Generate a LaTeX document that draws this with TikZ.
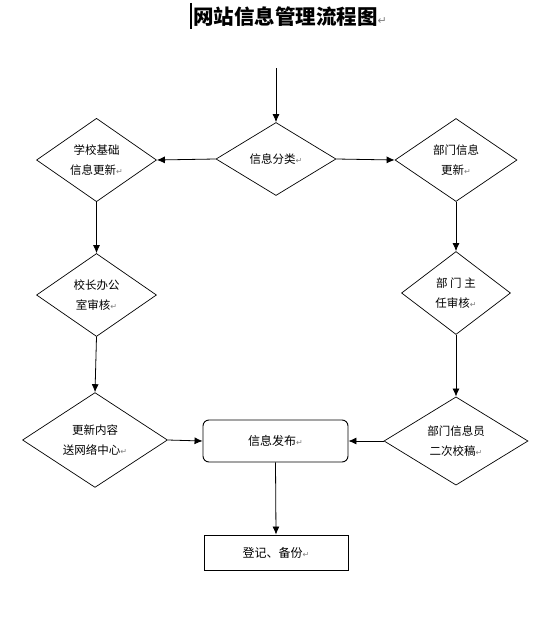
\documentclass[tikz,border=0pt]{standalone}
\usepackage{fontspec}
\newfontfamily\cjk{Noto Sans CJK SC}
\newfontfamily\dejavu{DejaVu Sans}
\usetikzlibrary{shapes.geometric,arrows.meta}
\newcommand\pmk{{\dejavu\fontsize{8}{8}\selectfont\textcolor{gray}{↵}}}
\newcommand\pmkbig{{\dejavu\fontsize{11}{11}\selectfont\mdseries\textcolor{gray}{↵}}}
\tikzset{
  dia/.style={diamond, draw, line width=0.7pt, inner sep=0pt, align=center,
    font=\cjk\fontsize{11.5}{20}\selectfont},
  pubbox/.style={draw, line width=0.9pt, rounded corners=6pt, inner sep=0pt,
    minimum width=145, minimum height=42, font=\cjk\fontsize{12}{14}\selectfont},
  recbox/.style={draw, line width=0.9pt, inner sep=0pt,
    minimum width=144, minimum height=35, font=\cjk\fontsize{12}{14}\selectfont},
  arr/.style={draw, line width=0.8pt, -{Latex[length=8pt,width=7pt]}}
}
\begin{document}
\begin{tikzpicture}[x=1pt,y=-1pt]
\useasboundingbox[fill=white] (0,0) rectangle (559,626);
% title
\draw[line width=2pt] (191,3) -- (191,29);
\node[anchor=west, inner sep=0pt, font=\cjk\fontsize{20.5}{24}\selectfont\bfseries] (title) at (193,17) {网站信息管理流程图\pmkbig};
% nodes
\coordinate (start) at (276,68);
\node[dia, minimum width=120, minimum height=73] (cls) at (276,159) {信息分类\pmk};
\node[dia, minimum width=120, minimum height=81] (school) at (96.5,160) {学校基础\\信息更新\pmk};
\node[dia, minimum width=122, minimum height=83] (dept) at (456,160) {部门信息\\更新\pmk};
\node[dia, minimum width=120, minimum height=83] (princ) at (96.5,295) {校长办公\\室审核\pmk};
\node[dia, minimum width=109, minimum height=83] (head) at (456,293) {部 门 主\\任审核\pmk};
\node[dia, minimum width=145, minimum height=81] (send) at (95,440) {更新内容\\送网络中心\pmk};
\node[dia, minimum width=144, minimum height=83] (check) at (456,441) {部门信息员\\二次校稿\pmk};
\node[pubbox] (pub) at (275.5,441) {信息发布\pmk};
\node[recbox] (rec) at (276,552.5) {登记、备份\pmk};
% connectors
\path[arr] (start) -- (cls.north);
\path[arr] (cls.west) -- (school.east);
\path[arr] (cls.east) -- (dept.west);
\path[arr] (school.south) -- (princ.north);
\path[arr] (princ.south) -- (send.north);
\path[arr] (dept.south) -- (head.north);
\path[arr] (head.south) -- (check.north);
\path[arr] (send.east) -- (pub.west);
\path[arr] (check.west) -- (pub.east);
\path[arr] (pub.south) -- (rec.north);
\end{tikzpicture}
\end{document}
